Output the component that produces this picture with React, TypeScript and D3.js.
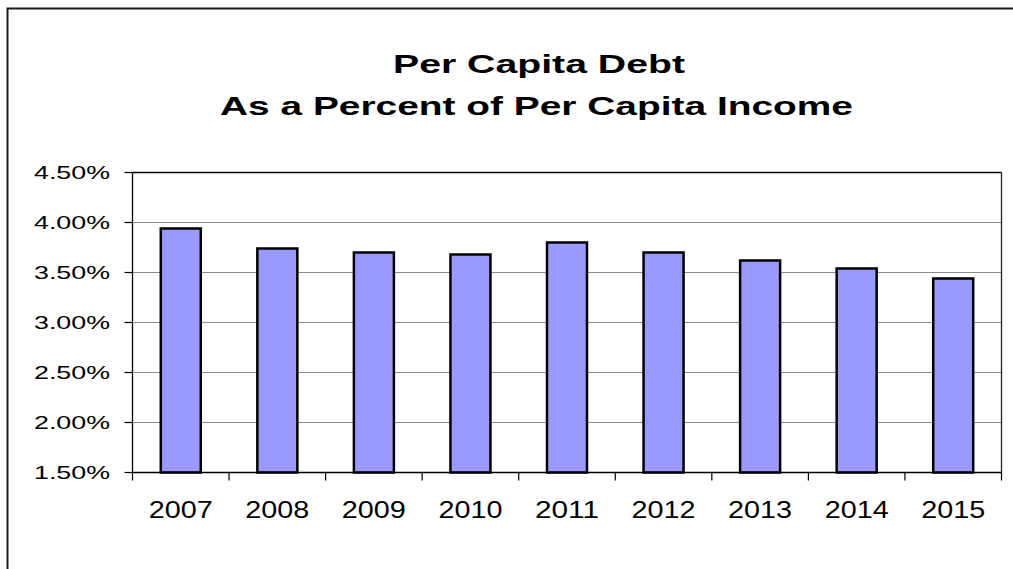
import React from "react";
import * as d3 from "d3";

const years = ["2007", "2008", "2009", "2010", "2011", "2012", "2013", "2014", "2015"];
const values = [3.94, 3.74, 3.70, 3.68, 3.80, 3.70, 3.62, 3.54, 3.44];
const yTicks = [1.5, 2.0, 2.5, 3.0, 3.5, 4.0, 4.5];
const titleLines = ["Per Capita Debt", "As a Percent of Per Capita Income"];

const W = 1013;
const H = 569;
const left = 132.5;
const right = 1001.5;
const top = 172.5;
const bottom = 472.5;

export default function App() {
  const x = d3.scaleBand<string>().domain(years).range([left, right]).paddingInner(0).paddingOuter(0);
  const y = d3.scaleLinear().domain([1.5, 4.5]).range([bottom, top]);
  const bw = 40;
  const fmt = (v: number) => v.toFixed(2) + "%";
  const font = "'Liberation Sans', Arial, sans-serif";
  const boundaries = d3.range(years.length + 1).map((i) => left + i * x.step());

  return (
    <svg width={W} height={H} style={{ position: "absolute", left: 0, top: 0, background: "#fff" }} fontFamily={font}>
      <rect x={0} y={0} width={W} height={H} fill="#fff" />
      {/* outer frame */}
      <path d={`M7.5,${H + 2} L7.5,8.5 L${W + 2},8.5`} fill="none" stroke="#1a1a1a" strokeWidth={2} />
      {/* title */}
      <text x={539} y={73} textAnchor="middle" fontWeight="bold" fontSize={26} textLength={292} lengthAdjust="spacingAndGlyphs">
        {titleLines[0]}
      </text>
      <text x={536.5} y={115} textAnchor="middle" fontWeight="bold" fontSize={26} textLength={633} lengthAdjust="spacingAndGlyphs">
        {titleLines[1]}
      </text>
      {/* gridlines */}
      {yTicks.map((t) => (
        <line key={"g" + t} x1={left} x2={right} y1={y(t)} y2={y(t)} stroke={t === 4.5 ? "#000" : "#8c8c8c"} strokeWidth={t === 4.5 ? 1.3 : 1.2} />
      ))}
      {/* right border */}
      <line x1={right} x2={right} y1={top} y2={bottom} stroke="#222" strokeWidth={1.3} />
      {/* bars */}
      {years.map((yr, i) => {
        const cx = (x(yr) as number) + x.bandwidth() / 2;
        return (
          <rect key={yr} x={cx - bw / 2} y={y(values[i])} width={bw} height={bottom - y(values[i])} fill="#9999FF" stroke="#000" strokeWidth={2.5} />
        );
      })}
      {/* y axis */}
      <line x1={left} x2={left} y1={top} y2={bottom} stroke="#000" strokeWidth={1.3} />
      {yTicks.map((t) => (
        <g key={"yt" + t}>
          <line x1={left - 8} x2={left} y1={y(t)} y2={y(t)} stroke="#000" strokeWidth={1.2} />
          <text x={110} y={y(t) + 6.5} textAnchor="end" fontSize={18} textLength={76} lengthAdjust="spacingAndGlyphs">
            {fmt(t)}
          </text>
        </g>
      ))}
      {/* x axis */}
      <line x1={left} x2={right} y1={bottom} y2={bottom} stroke="#000" strokeWidth={1.5} />
      {boundaries.map((b, i) => (
        <line key={"xt" + i} x1={b} x2={b} y1={bottom} y2={bottom + 8} stroke="#000" strokeWidth={1.2} />
      ))}
      {years.map((yr) => (
        <text key={"xl" + yr} x={(x(yr) as number) + x.bandwidth() / 2} y={517.5} textAnchor="middle" fontSize={24} textLength={64} lengthAdjust="spacingAndGlyphs">
          {yr}
        </text>
      ))}
    </svg>
  );
}
